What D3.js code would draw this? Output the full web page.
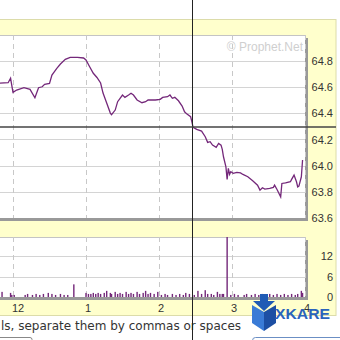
<!DOCTYPE html>
<html>
<head>
<meta charset="utf-8">
<script src="https://cdnjs.cloudflare.com/ajax/libs/d3/7.8.5/d3.min.js"></script>
<style>
body{margin:0;background:#fff;}
svg{display:block;}
</style>
</head>
<body>
<svg id="chart" width="340" height="340"></svg>
<script>
// times are minutes after 12:00
var priceTimes = [-11,-4,-2,0,3,9,14,18,21,24,26,30,32,36,39,43,47,53,58,60,63,66,69,72,74,77,80,81,84,86,90,92,95,97,99,102,106,109,111,117,121,123,127,129,131,133,136,139,141,143,146,147,148,151,155,158,160,162,164,167,169,171,172,173,175,176,177,178,179,181,184,187,189,193,197,201,203,205,207,211,214,215,217,220,221,224,228,229,231,233,234,235,237,238];
var prices = [64.63,64.634,64.668,64.56,64.578,64.596,64.583,64.519,64.596,64.603,64.622,64.629,64.693,64.744,64.777,64.813,64.828,64.828,64.823,64.808,64.756,64.706,64.674,64.632,64.555,64.479,64.402,64.389,64.425,64.489,64.54,64.522,64.54,64.553,64.54,64.502,64.481,64.489,64.502,64.502,64.507,64.522,64.527,64.54,64.515,64.522,64.496,64.456,64.412,64.394,64.374,64.336,64.293,64.277,64.264,64.221,64.178,64.183,64.157,64.14,64.17,64.157,64.124,64.068,63.991,63.895,63.979,63.933,63.953,63.941,63.948,63.945,63.933,63.915,63.884,63.851,63.813,63.831,63.821,63.826,63.834,63.851,63.818,63.762,63.864,63.869,63.877,63.895,63.928,63.877,63.838,63.844,63.915,64.043];

var volTimes = [-9,-2,-1,1,10,12,16,19,22,25,29,32,35,39,42,45,50,60,62,64,66,68,70,72,75,77,80,81,84,86,88,90,93,95,97,99,102,104,107,109,111,113,116,119,122,125,127,131,134,137,140,142,145,149,152,155,158,160,163,165,168,170,172,173,176,179,182,185,190,192,196,199,202,205,208,211,214,217,220,223,226,229,232,234,237,238];
var volumes = [1.5,1.2,0.6,0.6,0.6,0.9,0.6,0.9,0.6,0.9,1.2,0.9,0.6,0.9,0.6,0.6,3.7,1.2,0.9,0.9,1.2,0.9,1.2,0.9,1.2,1.8,1.2,0.9,1.5,0.9,1.2,0.9,1.5,0.9,1.2,0.9,1.5,0.9,1.2,1.8,0.9,1.2,0.9,1.5,0.6,0.9,0.6,0.9,0.6,0.9,0.6,1.2,0.9,0.6,1.8,0.9,2.0,0.9,0.9,0.6,1.5,0.9,0.9,0.9,20,0.6,0.9,0.6,0.6,0.9,0.6,0.9,0.6,0.9,0.6,0.9,0.6,0.9,0.6,0.9,0.6,0.9,0.6,0.9,1.8,1.2];

var hourTicks = [0, 60, 120, 180, 240];
var hourLabels = ["12", "1", "2", "3", "4"];
var priceTicks = [63.6, 63.8, 64.0, 64.2, 64.4, 64.6, 64.8];
var volTicks = [0, 6, 12];
var cursor = {t: 147.5, p: 64.295};

var purple = "#74287a";
var svg = d3.select("#chart");

var x = d3.scaleLinear().domain([0, 240]).range([13, 305]);
var yP = d3.scaleLinear().domain([63.6, 64.8]).range([218, 61]);
var yV = d3.scaleLinear().domain([0, 12]).range([297, 256]);

//外枠（黄色）
svg.append("rect").attr("x", -2).attr("y", 19.5).attr("width", 338).attr("height", 296)
  .attr("fill", "#ffffcc").attr("stroke", "#dcdcaa");

//価格パネル・出来高パネル
function panel(top, bottom){
  svg.append("rect").attr("x", -10).attr("y", top + 3).attr("width", 318).attr("height", bottom - top)
    .attr("fill", "#999");
  svg.append("rect").attr("x", -10).attr("y", top).attr("width", 315).attr("height", bottom - top)
    .attr("fill", "#fff");
  svg.append("line").attr("x1", -10).attr("x2", 305).attr("y1", top + 0.5).attr("y2", top + 0.5)
    .attr("stroke", "#c4c4c4");
}
panel(35, 218);
panel(237, 297);

svg.append("clipPath").attr("id", "clipP").append("rect")
  .attr("x", -10).attr("y", 35).attr("width", 315).attr("height", 183);
svg.append("clipPath").attr("id", "clipV").append("rect")
  .attr("x", -10).attr("y", 237).attr("width", 315).attr("height", 60);

//グリッド
svg.selectAll(".hgrid").data(priceTicks.filter(function(d){ return d > 63.6; }))
  .enter().append("line")
  .attr("x1", -10).attr("x2", 305)
  .attr("y1", function(d){ return Math.round(yP(d)) + 0.5; })
  .attr("y2", function(d){ return Math.round(yP(d)) + 0.5; })
  .attr("stroke", "#d4d4d4");
svg.selectAll(".vgrid").data(volTicks.filter(function(d){ return d > 0; }))
  .enter().append("line")
  .attr("x1", -10).attr("x2", 305)
  .attr("y1", function(d){ return Math.round(yV(d)) + 0.5; })
  .attr("y2", function(d){ return Math.round(yV(d)) + 0.5; })
  .attr("stroke", "#d4d4d4");
[[35, 218], [237, 297]].forEach(function(r){
  svg.selectAll(null).data(hourTicks).enter().append("line")
    .attr("x1", function(d){ return Math.round(x(d)) + 0.5; })
    .attr("x2", function(d){ return Math.round(x(d)) + 0.5; })
    .attr("y1", r[0]).attr("y2", r[1])
    .attr("stroke", "#c8c8c8").attr("stroke-dasharray", "5,4");
});

//透かし
svg.append("text").attr("x", 303).attr("y", 51).attr("text-anchor", "end")
  .attr("font-family", "Liberation Sans, Arial").attr("font-size", 12)
  .attr("fill", "#cfcfcf").text("\u00a9 Prophet.Net");

//価格ライン
var line = d3.line()
  .x(function(d){ return x(d[0]); })
  .y(function(d){ return yP(d[1]); });
svg.append("path").datum(d3.zip(priceTimes, prices))
  .attr("clip-path", "url(#clipP)")
  .attr("d", line).attr("fill", "none")
  .attr("stroke", purple).attr("stroke-width", 1.3);

//出来高
svg.append("g").attr("clip-path", "url(#clipV)")
  .selectAll("rect").data(d3.zip(volTimes, volumes)).enter().append("rect")
  .attr("x", function(d){ return x(d[0]) - 0.7; })
  .attr("width", 1.4)
  .attr("y", function(d){ return yV(d[1]); })
  .attr("height", function(d){ return yV(0) - yV(d[1]); })
  .attr("fill", purple);

//軸ラベル
var font = "Liberation Sans, Arial, sans-serif";
var pAxis = svg.append("g").attr("transform", "translate(333,0)")
  .call(d3.axisLeft(yP).tickValues(priceTicks).tickSize(0).tickPadding(0)
    .tickFormat(d3.format(".1f")));
pAxis.select(".domain").remove();
var vAxis = svg.append("g").attr("transform", "translate(333,0)")
  .call(d3.axisLeft(yV).tickValues(volTicks).tickSize(0).tickPadding(0));
vAxis.select(".domain").remove();
svg.selectAll(".tick text").attr("font-family", font).attr("font-size", 11).attr("fill", "#333");

svg.selectAll(".hlab").data(hourTicks).enter().append("text")
  .attr("x", function(d){ return x(d) - 1; })
  .attr("y", 312)
  .attr("font-family", font).attr("font-size", 11).attr("fill", "#333")
  .text(function(d, i){ return hourLabels[i]; });

//ページ下部
svg.append("text").attr("x", 1).attr("y", 330)
  .attr("font-family", "DejaVu Sans, Verdana").attr("font-size", 12).attr("fill", "#333")
  .text("ls, separate them by commas or spaces");
svg.append("rect").attr("x", -6).attr("y", 337.5).attr("width", 38).attr("height", 20).attr("rx", 2)
  .attr("fill", "#fff").attr("stroke", "#888");
svg.append("rect").attr("x", 252.5).attr("y", 337.5).attr("width", 100).attr("height", 20).attr("rx", 3)
  .attr("fill", "#fff").attr("stroke", "#6b8fc4");

//ロゴ
var logo = svg.append("g");
logo.append("polygon").attr("points", "252,305 264,312 264,331 252,323").attr("fill", "#3a7bd6");
logo.append("polygon").attr("points", "264,312 276,305 276,323 264,331").attr("fill", "#1d4fa3");
logo.append("polygon").attr("points", "260,294 268,294 268,301 275,301 264,311 253,301 260,301").attr("fill", "#1f5bb5");
logo.append("text").attr("x", 275).attr("y", 319)
  .attr("font-family", "Liberation Sans, Arial").attr("font-weight", "bold").attr("font-size", 14)
  .attr("textLength", 55).attr("lengthAdjust", "spacingAndGlyphs")
  .attr("fill", "#2a63bd").text("XKARE");

//クロスヘア
svg.append("line")
  .attr("x1", Math.round(x(cursor.t)) + 0.5).attr("x2", Math.round(x(cursor.t)) + 0.5)
  .attr("y1", 0).attr("y2", 340).attr("stroke", "#222");
svg.append("line")
  .attr("x1", 0).attr("x2", 336)
  .attr("y1", yP(cursor.p)).attr("y2", yP(cursor.p))
  .attr("stroke", "#444").attr("stroke-width", 1.6);
</script>
</body>
</html>
